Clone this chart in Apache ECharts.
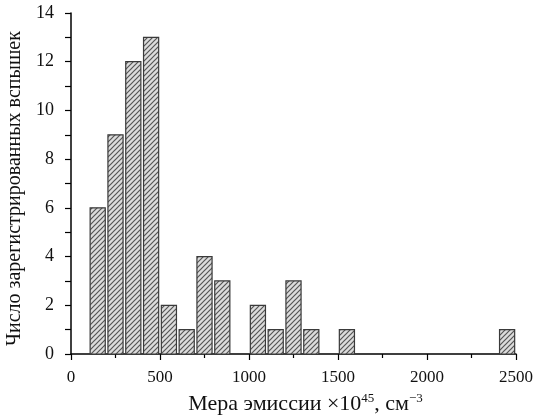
<!DOCTYPE html>
<html><head><meta charset="utf-8">
<script src="https://cdn.jsdelivr.net/npm/echarts@6/dist/echarts.min.js"></script>
<style>html,body{margin:0;padding:0;background:#fff}#c{width:537px;height:419px}</style>
</head><body><div id="c"></div>
<script>
const binCenters = [150, 250, 350, 450, 550, 650, 750, 850, 1050, 1150, 1250, 1350, 1550, 2450];
const counts = [6, 9, 12, 13, 2, 1, 4, 3, 2, 1, 3, 1, 1, 1];
const barWidthUnits = 85;
const xTicks = [0, 500, 1000, 1500, 2000, 2500];
const yTicks = [0, 2, 4, 6, 8, 10, 12, 14];

function makeHatch() {
  const s = 5;
  const c = document.createElement('canvas');
  c.width = s; c.height = s;
  const g = c.getContext('2d');
  g.fillStyle = '#dcdcdc';
  g.fillRect(0, 0, s, s);
  g.strokeStyle = '#555';
  g.lineWidth = 1.2;
  g.beginPath();
  g.moveTo(-1, s + 1); g.lineTo(s + 1, -1);
  g.moveTo(-1, 1); g.lineTo(1, -1);
  g.moveTo(s - 1, s + 1); g.lineTo(s + 1, s - 1);
  g.stroke();
  return c;
}
const hatch = { image: makeHatch(), repeat: 'repeat' };

const chart = echarts.init(document.getElementById('c'), null, { renderer: 'canvas' });
const font = 'Liberation Serif';
chart.setOption({
  animation: false,
  grid: { left: 71, right: 21, top: 13, bottom: 65, containLabel: false, outerBoundsMode: 'none' },
  xAxis: {
    type: 'value', min: 0, max: 2500, interval: 500,
    axisLine: { lineStyle: { color: '#000', width: 1.5 } },
    axisTick: { show: true, length: 6, lineStyle: { color: '#000', width: 1.2 } },
    minorTick: { show: true, splitNumber: 2, length: 4, lineStyle: { color: '#000', width: 1.2 } },
    splitLine: { show: false },
    axisLabel: { color: '#111', fontFamily: font, fontSize: 17, margin: 15,
      formatter: v => xTicks.includes(v) ? String(v) : '' },
    name: '{a|Мера эмиссии ×10}{s|45}{a|, см}{s|−3}',
    nameLocation: 'middle', nameGap: 38,
    nameTextStyle: {
      padding: [0, 0, 0, 24],
      rich: {
        a: { fontFamily: font, fontSize: 22, color: '#111' },
        s: { fontFamily: font, fontSize: 13, color: '#111', padding: [0, 0, 12, 0] }
      }
    }
  },
  yAxis: {
    type: 'value', min: 0, max: 14, interval: 2,
    axisLine: { show: true, lineStyle: { color: '#000', width: 1.5 } },
    axisTick: { show: true, length: 6, lineStyle: { color: '#000', width: 1.2 } },
    minorTick: { show: true, splitNumber: 2, length: 6, lineStyle: { color: '#000', width: 1.2 } },
    splitLine: { show: false },
    axisLabel: { color: '#111', fontFamily: font, fontSize: 18, margin: 17,
      formatter: v => yTicks.includes(v) ? String(v) : '' },
    name: 'Число зарегистрированных вспышек',
    nameLocation: 'middle', nameGap: 46, nameRotate: 90,
    nameTextStyle: { fontFamily: font, fontSize: 20, color: '#111', padding: [0, 10, 0, 0] }
  },
  series: [{
    type: 'custom',
    data: binCenters.map((x, i) => [x, counts[i]]),
    renderItem: function (params, api) {
      const x = api.value(0), y = api.value(1);
      const p0 = api.coord([x - barWidthUnits / 2, y]);
      const p1 = api.coord([x + barWidthUnits / 2, 0]);
      return {
        type: 'rect',
        shape: { x: p0[0], y: p0[1], width: p1[0] - p0[0], height: p1[1] - p0[1] },
        style: { fill: hatch, stroke: '#3a3a3a', lineWidth: 1.2 }
      };
    }
  }]
});
</script></body></html>
